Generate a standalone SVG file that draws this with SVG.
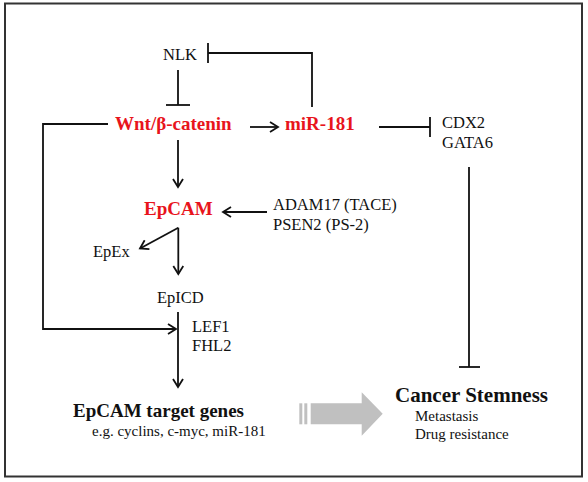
<svg xmlns="http://www.w3.org/2000/svg" width="588" height="482" viewBox="0 0 588 482">
<defs>
<style>
text{font-family:"Liberation Serif","Times New Roman",serif;fill:#111}
.lbl{font-size:16.5px}
.sub{font-size:15px}
.red{fill:#e8141c;font-weight:bold;font-size:19px}
.bold{font-weight:bold}
.ln{stroke:#111;stroke-width:1.8;fill:none}
</style>
<marker id="arr" viewBox="0 0 12 12" refX="10" refY="6" markerWidth="12" markerHeight="12" markerUnits="userSpaceOnUse" orient="auto">
<path d="M2,1 L10,6 L2,11" fill="none" stroke="#111" stroke-width="1.8"/>
</marker>
</defs>
<rect x="5" y="3.5" width="577" height="473" fill="#fff" stroke="#333" stroke-width="2"/>
<g id="connectors">
<path class="ln" d="M312,107 V53 H208"/>
<path class="ln" d="M208,43 V63"/>
<path class="ln" d="M178,70 V105"/>
<path class="ln" d="M166,105 H190"/>
<path class="ln" d="M250,127 H278" marker-end="url(#arr)"/>
<path class="ln" d="M108,124 H43 V329 H176" marker-end="url(#arr)"/>
<path class="ln" d="M178,140 V187" marker-end="url(#arr)"/>
<path class="ln" d="M267,212 H223" marker-end="url(#arr)"/>
<path class="ln" d="M379,127 H430"/>
<path class="ln" d="M430,117 V137"/>
<path class="ln" d="M469,167 V367"/>
<path class="ln" d="M459,367 H480"/>
<path class="ln" d="M178.3,227.7 L140,248.5" marker-end="url(#arr)"/>
<path class="ln" d="M178.3,227.7 V274" marker-end="url(#arr)"/>
<path class="ln" d="M178,312 V387" marker-end="url(#arr)"/>
<g id="big-arrow" fill="#c0c0c0">
<rect x="299.3" y="403.3" width="3" height="21"/>
<rect x="304.3" y="403.3" width="3" height="21"/>
<path d="M310.7,403.3 H361.7 V392.3 L382.7,413.8 L361.7,435.7 V424.3 H310.7 Z"/>
</g>
</g>
<g id="NLK"><text class="lbl" x="163" y="60">NLK</text></g>
<g id="wnt"><text class="red" x="115" y="130">Wnt/β-catenin</text></g>
<g id="mir181"><text class="red" x="285" y="130">miR-181</text></g>
<g id="cdx2"><text class="lbl" x="442" y="128">CDX2</text><text class="lbl" x="442" y="148">GATA6</text></g>
<g id="epcam"><text class="red" x="144" y="215">EpCAM</text></g>
<g id="adam"><text class="lbl" x="273" y="210">ADAM17 (TACE)</text><text class="lbl" x="273" y="230">PSEN2 (PS-2)</text></g>
<g id="epex"><text class="lbl" x="93" y="257">EpEx</text></g>
<g id="epicd"><text class="lbl" x="157" y="303">EpICD</text></g>
<g id="lef1"><text class="lbl" x="192" y="332">LEF1</text><text class="lbl" x="192" y="351">FHL2</text></g>
<g id="targets"><text class="bold" x="73" y="417" font-size="19">EpCAM target genes</text><text class="sub" x="92" y="436">e.g. cyclins, c-myc, miR-181</text></g>
<g id="stemness"><text class="bold" x="395" y="402" font-size="21">Cancer Stemness</text><text class="sub" x="415" y="421">Metastasis</text><text class="sub" x="415" y="439">Drug resistance</text></g>
</svg>
